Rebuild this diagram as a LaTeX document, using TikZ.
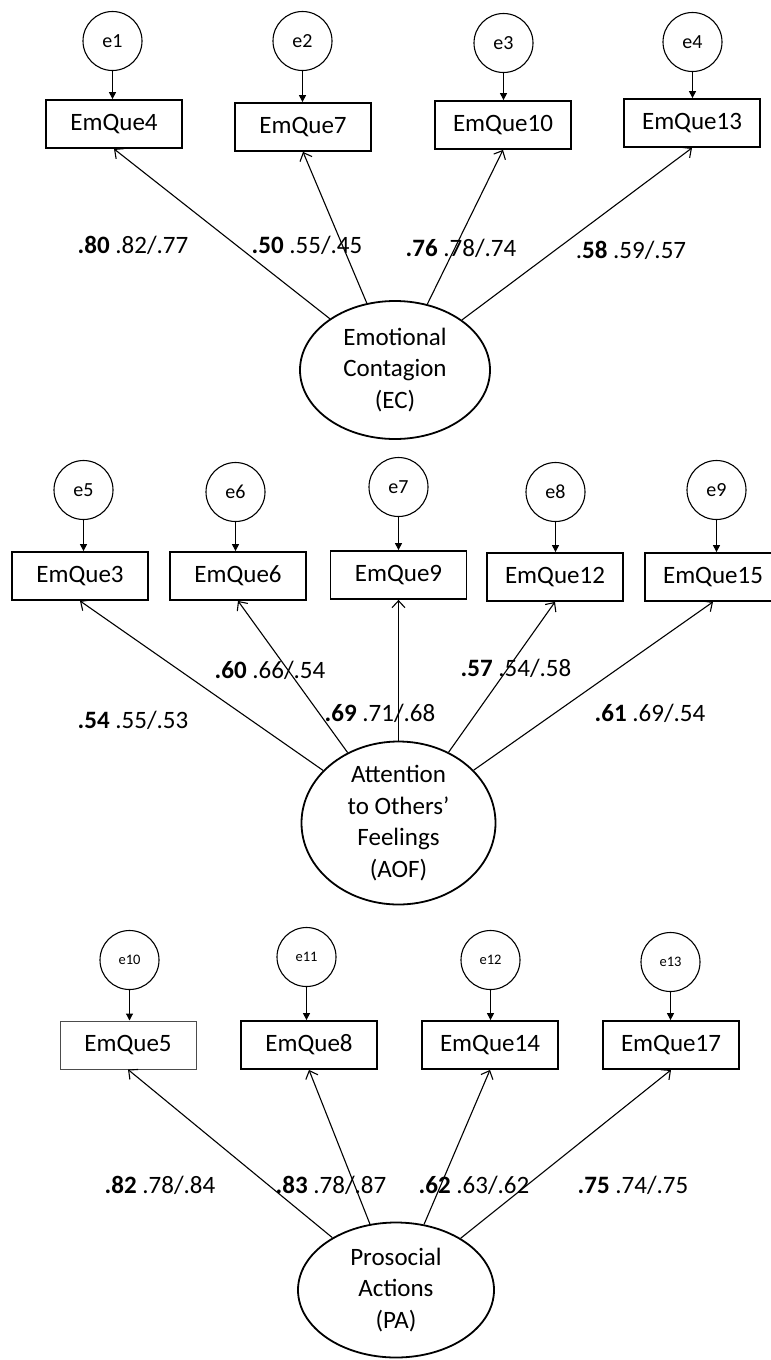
\documentclass[tikz,border=0pt]{standalone}
\usepackage{fontspec}
\setmainfont{Carlito}
\usetikzlibrary{shapes.geometric,arrows.meta}
\tikzset{
    errc/.style={circle,draw=black,line width=1.1pt,minimum size=59pt,inner sep=0,font=\fontsize{20}{24}\selectfont},
    obs/.style={rectangle,draw=black,line width=1.8pt,minimum width=136pt,minimum height=48pt,inner sep=0,font=\fontsize{25}{30}\selectfont},
    latent/.style={ellipse,draw=black,line width=1.8pt,inner sep=0,align=center,font=\fontsize{25}{31.5}\selectfont},
    load/.style={line width=1.1pt,-{Straight Barb[length=7pt,width=13pt]}},
    resid/.style={line width=1.1pt,-{Triangle[length=7pt,width=7pt]}},
    coef/.style={inner sep=0,font=\fontsize{25}{30}\selectfont}
}
\begin{document}
\begin{tikzpicture}[x=1pt,y=-1pt]
    \useasboundingbox (0,0) rectangle (771,1360);

    % latent factors
    \node[latent,minimum width=190pt,minimum height=138pt] (ec) at (395,370) {Emotional\\Contagion\\(EC)};
    \node[latent,minimum width=194pt,minimum height=148pt] (aof) at (398.5,823) {Attention\\to Others’\\Feelings\\(AOF)};
    \node[latent,minimum width=196pt,minimum height=135pt] (pa) at (396,1290) {Prosocial\\Actions\\(PA)};

    % EC items
    \foreach \q/\e/\xe/\ye/\xq/\yq in {4/1/112.5/41/114/124, 7/2/302.5/41/303/127, 10/3/503.5/43/503/125, 13/4/692.5/42/692/123} {
        \node[errc] (e\e) at (\xe,\ye) {e\e};
        \node[obs] (q\q) at (\xq,\yq) {EmQue\q};
        \draw[resid] (e\e.south) -- (e\e.south |- q\q.north);
        \draw[load] (ec) -- (q\q.south);
    }

    % AOF items
    \foreach \q/\e/\xe/\ye/\xq/\yq in {3/5/83.5/490/80/576, 6/6/235.5/492/238/576, 9/7/398.5/487/398.5/575, 12/8/555.5/492/555/577, 15/9/716.5/490/713/577} {
        \node[errc] (e\e) at (\xe,\ye) {e\e};
        \node[obs] (q\q) at (\xq,\yq) {EmQue\q};
        \draw[resid] (e\e.south) -- (e\e.south |- q\q.north);
        \draw[load] (aof) -- (q\q.south);
    }

    % PA items
    \foreach \q/\e/\xe/\ye/\xq/\yq/\w/\c in {5/10/129.5/960/128/1045/1pt/black!70, 8/11/306.5/957/309/1045/1.8pt/black, 14/12/490.5/960/490/1045/1.8pt/black, 17/13/670.5/962/671/1045/1.8pt/black} {
        \node[errc,font=\fontsize{14.5}{17}\selectfont] (e\e) at (\xe,\ye) {e\e};
        \node[obs,line width=\w,draw=\c] (q\q) at (\xq,\yq) {EmQue\q};
        \draw[resid] (e\e.south) -- (e\e.south |- q\q.north);
        \draw[load] (pa) -- (q\q.south);
    }

    % loadings
    \node[coef] (c4) at (133,245) {\textbf{.80} .82/.77};
    \node[coef] (c7) at (307,245) {\textbf{.50} .55/.45};
    \node[coef] (c10) at (461,248) {\textbf{.76} .78/.74};
    \node[coef] (c13) at (631,250) {.\textbf{58} .59/.57};

    \node[coef] (c3) at (133,720) {\textbf{.54} .55/.53};
    \node[coef] (c6) at (270,670) {\textbf{.60} .66/.54};
    \node[coef] (c9) at (380,713) {\textbf{.69} .71/.68};
    \node[coef] (c12) at (516,668) {\textbf{.57} .54/.58};
    \node[coef] (c15) at (650,713) {\textbf{.61} .69/.54};

    \node[coef] (c5) at (160,1185) {\textbf{.82} .78/.84};
    \node[coef] (c8) at (331,1185) {\textbf{.83} .78/.87};
    \node[coef] (c14) at (474,1185) {\textbf{.62} .63/.62};
    \node[coef] (c17) at (633,1185) {\textbf{.75} .74/.75};
\end{tikzpicture}
\end{document}
